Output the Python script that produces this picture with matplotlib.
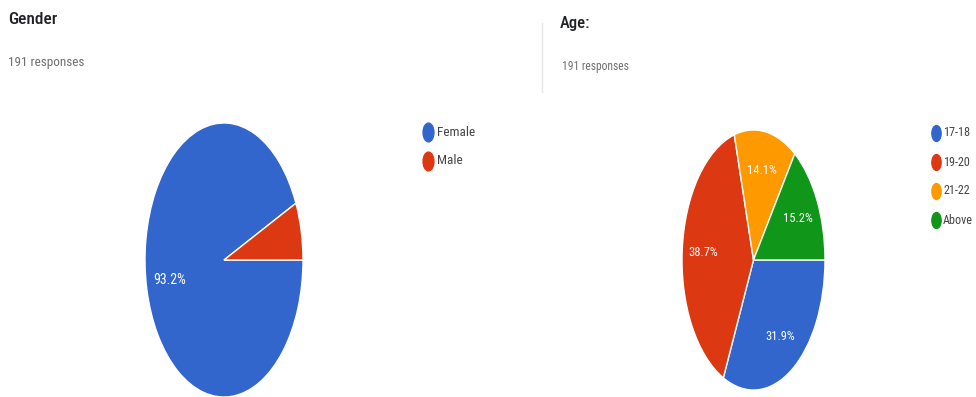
import os
import matplotlib
matplotlib.use("Agg")
import matplotlib.pyplot as plt
from matplotlib import font_manager
from matplotlib.font_manager import FontProperties
from matplotlib.path import Path
from matplotlib.transforms import Affine2D

# ---------------- data ----------------
gender_labels = ["Female", "Male"]
gender_pct = [93.2, 6.8]
age_labels = ["17-18", "19-20", "21-22", "Above"]
age_pct = [31.9, 38.7, 14.1, 15.2]
gender_colors = ["#3366cc", "#dc3912"]
age_colors = ["#3366cc", "#dc3912", "#ff9900", "#109618"]
title_left = "Gender"
title_right = "Age:"
responses = "191 responses"

# ---------------- fonts (narrow face to mimic the squashed screenshot) ----------------
files = [f.fname for f in font_manager.fontManager.ttflist]


def find(patterns):
    for p in patterns:
        for fn in files:
            if p.lower() in os.path.basename(fn).lower():
                return fn
    return None


reg = find(["RobotoCondensed-Regular", "RobotoCondensed[wght]", "RobotoCondensed-VariableFont",
            "ArchivoNarrow-Regular", "BarlowCondensed-Regular", "AsapCondensed-Regular"])
med = find(["RobotoCondensed-Medium", "ArchivoNarrow-Medium", "BarlowCondensed-Medium",
            "AsapCondensed-Medium"]) or reg
if reg:
    FP = lambda s: FontProperties(fname=reg, size=s)
    FPM = lambda s: FontProperties(fname=med, size=s)
    k = 1.0
else:
    FP = lambda s: FontProperties(family="Roboto", size=s)
    FPM = lambda s: FontProperties(family="Roboto", size=s)
    k = 0.87

W, H = 976, 397
fig = plt.figure(figsize=(W / 100, H / 100), dpi=100)
fig.patch.set_facecolor("white")

# overlay in pixel coordinates
ov = fig.add_axes([0, 0, 1, 1])
ov.set_xlim(0, W)
ov.set_ylim(H, 0)
ov.axis("off")


def pie_axes(x0, x1, y0, y1):
    return fig.add_axes([x0 / W, (H - y1) / H, (x1 - x0) / W, (y1 - y0) / H])


def fmt(p):
    return f"{p:.1f}%" if p >= 10 else ""


def draw_pie(ax, vals, cols, fs):
    _, _, autotexts = ax.pie(vals, colors=cols, startangle=0, counterclock=False,
                             autopct=fmt, pctdistance=0.70,
                             wedgeprops=dict(edgecolor="white", linewidth=1.0))
    for t in autotexts:
        t.set_fontproperties(FP(fs * k))
        t.set_color("white")
    ax.set_aspect("auto")
    ax.set_xlim(-1, 1)
    ax.set_ylim(-1, 1)
    ax.axis("off")


ax1 = pie_axes(145, 303, 123, 397)
draw_pie(ax1, gender_pct, gender_colors, 10)
ax2 = pie_axes(682, 825, 130, 390)
draw_pie(ax2, age_pct, age_colors, 9)

# titles
ov.text(8, 24, title_left, fontproperties=FPM(12.5 * k), color="#202124", va="baseline", ha="left")
ov.text(8, 66, responses, fontproperties=FP(9.5 * k), color="#6f6f6f", va="baseline", ha="left")
ov.text(560, 28, title_right, fontproperties=FPM(12 * k), color="#202124", va="baseline", ha="left")
ov.text(562, 70, responses, fontproperties=FP(8.3 * k), color="#6f6f6f", va="baseline", ha="left")

# separator
ov.plot([542, 542], [23, 92], color="#e6e6e6", lw=1)

# legends (vertically stretched dots)
ell = Path.unit_circle().transformed(Affine2D().scale(0.58, 1.0))
for i, (lab, col) in enumerate(zip(gender_labels, gender_colors)):
    y = 132 + i * 29
    ov.plot([427.5], [y], marker=ell, markersize=13.5, color=col, linestyle="none")
    ov.text(437, y, lab, fontproperties=FP(9.5 * k), color="#444444", va="center", ha="left")
for i, (lab, col) in enumerate(zip(age_labels, age_colors)):
    y = 133 + i * 29
    ov.plot([936], [y], marker=ell, markersize=11.5, color=col, linestyle="none")
    ov.text(943, y, lab, fontproperties=FP(8.7 * k), color="#444444", va="center", ha="left")

fig.savefig("out.png", dpi=100, facecolor="white")
